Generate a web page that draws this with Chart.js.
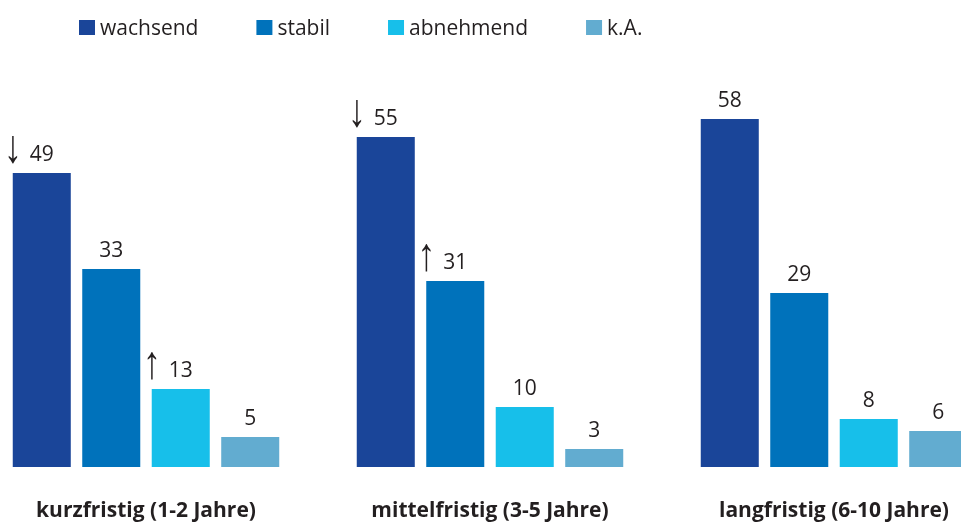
<!DOCTYPE html>
<html>
<head>
<meta charset="utf-8">
<script src="https://cdn.jsdelivr.net/npm/chart.js@4"></script>
<style>
    html, body { margin: 0; padding: 0; background: #fff; overflow: hidden; }
    #wrap { position: absolute; left: -26px; top: 0; width: 1032px; height: 522px; }
</style>
</head>
<body>
<div id="wrap"><canvas id="chart"></canvas></div>
<script>
// Daten
const kategorien = ['kurzfristig (1-2 Jahre)', 'mittelfristig (3-5 Jahre)', 'langfristig (6-10 Jahre)'];
const reihen = ['wachsend', 'stabil', 'abnehmend', 'k.A.'];
const wachsend = [49, 55, 58];
const stabil = [33, 31, 29];
const abnehmend = [13, 10, 8];
const keineAngabe = [5, 3, 6];
// Pfeile vor den Werten (Veränderung)
const pfeileWachsend = ['↓', '↓', ''];
const pfeileStabil = ['', '↑', ''];
const pfeileAbnehmend = ['↑', '', ''];
const pfeileKA = ['', '', ''];

const farben = ['#1a4599', '#0072bb', '#17bfea', '#62acd0'];
const textFarbe = '#231f20';
const schrift = '"Open Sans", "DejaVu Sans", sans-serif';
const versatz = 26; // Canvas liegt 26px links ausserhalb

// -----------------------------
// Legende oben (eigenes Plugin)
// -----------------------------
const legendePlugin = {
    id: 'legendeOben',
    afterDraw(chart) {
        const ctx = chart.ctx;
        ctx.save();
        ctx.font = '21px ' + schrift;
        ctx.textBaseline = 'alphabetic';
        let x = 79 + versatz;
        const grundlinie = 35;
        chart.data.datasets.forEach(ds => {
            ctx.fillStyle = ds.backgroundColor;
            ctx.fillRect(x, grundlinie - 15, 16, 15);
            ctx.fillStyle = textFarbe;
            ctx.fillText(ds.label, x + 21, grundlinie);
            x += 21 + ctx.measureText(ds.label).width + 58;
        });
        ctx.restore();
    }
};

// -----------------------------
// Werte über den Balken
// -----------------------------
const wertePlugin = {
    id: 'werte',
    afterDatasetsDraw(chart) {
        const ctx = chart.ctx;
        ctx.save();
        ctx.fillStyle = textFarbe;
        ctx.textBaseline = 'alphabetic';
        chart.data.datasets.forEach((ds, i) => {
            const meta = chart.getDatasetMeta(i);
            meta.data.forEach((bar, j) => {
                const text = String(ds.data[j]);
                const y = bar.y - 12;
                ctx.font = '21px ' + schrift;
                ctx.textAlign = 'center';
                ctx.fillText(text, bar.x, y);
                const pfeil = ds.pfeile[j];
                if (pfeil) {
                    // schmaler, hoher Pfeil links neben der Zahl
                    const w = ctx.measureText(text).width;
                    ctx.save();
                    ctx.translate(bar.x - w / 2 - 8, y + 1);
                    ctx.scale(1, 1.3);
                    ctx.font = '36px "Liberation Sans", "DejaVu Sans", sans-serif';
                    ctx.textAlign = 'right';
                    ctx.fillText(pfeil, 0, 0);
                    ctx.restore();
                }
            });
        });
        ctx.restore();
    }
};

const werte = [wachsend, stabil, abnehmend, keineAngabe];
const pfeile = [pfeileWachsend, pfeileStabil, pfeileAbnehmend, pfeileKA];

new Chart(document.getElementById('chart'), {
    type: 'bar',
    data: {
        labels: kategorien,
        datasets: reihen.map((name, i) => ({
            label: name,
            data: werte[i],
            pfeile: pfeile[i],
            backgroundColor: farben[i],
            categoryPercentage: 0.808,
            barPercentage: 0.835
        }))
    },
    options: {
        responsive: true,
        maintainAspectRatio: false,
        animation: false,
        layout: { padding: { top: 95, left: 0, right: 0, bottom: 0 } },
        plugins: {
            legend: { display: false },
            tooltip: { enabled: false }
        },
        scales: {
            x: {
                grid: { display: false, drawTicks: false },
                border: { display: false },
                afterFit: scale => { scale.height = 55; },
                ticks: {
                    color: textFarbe,
                    font: { family: schrift, size: 21, weight: 'bold' },
                    padding: 31,
                    maxRotation: 0
                }
            },
            y: {
                display: false,
                min: 0,
                max: 62
            }
        }
    },
    plugins: [legendePlugin, wertePlugin]
});
</script>
</body>
</html>
